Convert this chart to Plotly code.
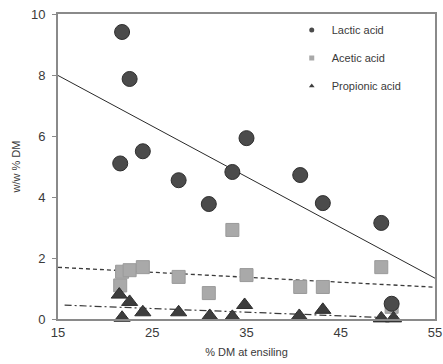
import numpy as np
import plotly.graph_objects as go

# % DM at ensiling for each silage sample
dm = [21.8, 22.6, 24.0, 21.6, 27.8, 31.0, 33.5, 35.0, 40.7, 43.1, 49.3, 50.4]
lactic = [9.41, 7.87, 5.5, 5.1, 4.55, 3.77, 4.82, 5.93, 4.72, 3.8, 3.15, 0.5]
acetic = [1.55, 1.6, 1.7, 1.1, 1.38, 0.85, 2.92, 1.44, 1.05, 1.05, 1.7, 0.4]
dm_prop = [21.8, 22.6, 24.0, 21.5, 27.8, 31.1, 33.5, 34.8, 40.6, 43.1, 49.3, 50.6]
propionic = [0.04, 0.56, 0.22, 0.8, 0.22, 0.1, 0.07, 0.46, 0.1, 0.3, 0.02, 0.02]

series_names = ["Lactic acid", "Acetic acid", "Propionic acid"]
trend_span = {"Lactic acid": [15, 55], "Acetic acid": [15, 55], "Propionic acid": [15.7, 50]}
x_ticks = [15, 25, 35, 45, 55]
y_ticks = [0, 2, 4, 6, 8, 10]

FONT = "Arial, Liberation Sans, sans-serif"
TXT = "#3a3a3a"

styles = {
    "Lactic acid": dict(symbol="circle", size=15, color="#4b4b4b", line=dict(color="#2e2e2e", width=1)),
    "Acetic acid": dict(symbol="square", size=13, color="#a9a9a9", line=dict(color="#9a9a9a", width=1)),
    "Propionic acid": dict(symbol="triangle-up", size=14, color="#3d3d3d", line=dict(color="#2e2e2e", width=1)),
}
line_styles = {
    "Lactic acid": dict(color="#2a2a2a", width=1, dash="solid"),
    "Acetic acid": dict(color="#3a3a3a", width=1.3, dash="4px,3px"),
    "Propionic acid": dict(color="#3a3a3a", width=1.2, dash="7px,3px,2px,3px"),
}

data = {
    "Lactic acid": (dm, lactic),
    "Acetic acid": (dm, acetic),
    "Propionic acid": (dm_prop, propionic),
}

fig = go.Figure()

# trendlines (least-squares fits of each series)
for name in series_names:
    xs, ys = data[name]
    slope, intercept = np.polyfit(xs, ys, 1)
    tx = np.array(trend_span[name], dtype=float)
    fig.add_trace(go.Scatter(x=tx, y=slope * tx + intercept, mode="lines",
                             line=line_styles[name], showlegend=False, hoverinfo="skip"))

# data points (draw acetic first so circles/triangles sit above)
for name in ["Acetic acid", "Lactic acid", "Propionic acid"]:
    xs, ys = data[name]
    fig.add_trace(go.Scatter(x=xs, y=ys, mode="markers", marker=styles[name],
                             showlegend=False, cliponaxis=False, name=name))

# legend entries with small symbols
for i, name in enumerate(series_names):
    st = styles[name]
    fig.add_trace(go.Scatter(x=[None], y=[None], mode="markers", name=name,
                             legendgroup=name,
                             marker=dict(symbol=st["symbol"], size=5, color=st["color"],
                                         line=dict(width=0))))

fig.update_layout(
    width=443, height=364,
    margin=dict(l=58, r=8, t=14, b=45, autoexpand=False),
    paper_bgcolor="white", plot_bgcolor="white",
    font=dict(family=FONT, size=12, color=TXT),
    legend=dict(x=0.62, y=0.995, xanchor="left", yanchor="top",
                bgcolor="rgba(0,0,0,0)", font=dict(size=11, color=TXT),
                tracegroupgap=9, itemwidth=30),
    xaxis=dict(range=[15, 55], tickvals=x_ticks, showgrid=False, zeroline=False,
               showline=True, linecolor="#8a8a8a", linewidth=2, mirror=True,
               ticks="", tickfont=dict(size=13, color=TXT), automargin=False,
               title=dict(text="% DM at ensiling", font=dict(size=11, color=TXT), standoff=10)),
    yaxis=dict(range=[0, 10], tickvals=y_ticks, showgrid=False, zeroline=False,
               showline=True, linecolor="#8a8a8a", linewidth=2, mirror=True,
               ticks="outside", ticklen=4, tickcolor="#8a8a8a", automargin=False,
               ticklabelstandoff=4,
               tickfont=dict(size=13, color=TXT),
               title=dict(text="w/w % DM", font=dict(size=11, color=TXT), standoff=8)),
)

fig.write_html("out.html")
